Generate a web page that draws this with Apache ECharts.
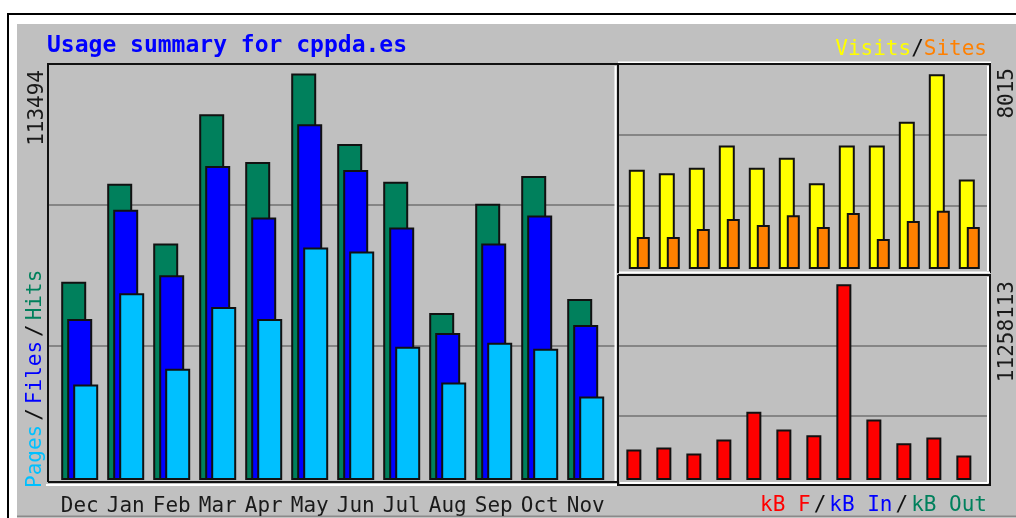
<!DOCTYPE html>
<html>
<head>
<meta charset="utf-8">
<title>Usage summary for cppda.es</title>
<script src="https://cdn.jsdelivr.net/npm/echarts@6/dist/echarts.min.js"></script>
<style>
  body { margin: 0; background: #fff; }
  #chart { width: 1016px; height: 518px; }
</style>
</head>
<body>
<div id="chart"></div>
<script>
// monthly figures
var months = ['Dec', 'Jan', 'Feb', 'Mar', 'Apr', 'May', 'Jun', 'Jul', 'Aug', 'Sep', 'Oct', 'Nov'];
var hits   = [55360, 82700, 66050, 102120, 88800, 113494, 93800, 83250, 46620, 77150, 84900, 50500];
var files  = [44950, 75480, 57170, 87690, 73260, 99350, 86580, 70490, 41070, 66050, 73820, 43290];
var pages  = [26640, 52170, 31080, 48290, 44960, 64930, 63830, 37190, 27200, 38300, 36630, 23310];
var visits = [4089, 3938, 4171, 5083, 4171, 4580, 3529, 5083, 5083, 6064, 8015, 3680];
var sites  = [1321, 1321, 1648, 2057, 1811, 2208, 1730, 2302, 1239, 1975, 2396, 1730];
var kbytes = [1757000, 1872000, 1528000, 2329000, 3932000, 2902000, 2576000, 11258113, 3474000, 2118000, 2444000, 1414000];

var C = {
    hits: '#00805c', files: '#0000ff', pages: '#00c0ff',
    visits: '#ffff00', sites: '#ff8000', kb: '#ff0000',
    bg: '#c0c0c0', grid: '#858585', ink: '#1a1a1a'
};
var MONO = 'DejaVu Sans Mono';
var F21 = '21px "' + MONO + '"';

var chart = echarts.init(document.getElementById('chart'));

// grid 0-2: panels that only carry the grey guide lines
// grid 3-5: the bars
function guideX(i) {
    return { gridIndex: i, type: 'value', min: 0, max: 1, show: false };
}
function guideY(i) {
    return {
        gridIndex: i, type: 'value', min: 0, max: 3, interval: 1,
        axisLine: { show: false }, axisTick: { show: false }, axisLabel: { show: false },
        splitLine: { show: true, showMinLine: false, showMaxLine: false, lineStyle: { color: C.grid, width: 2 } }
    };
}
function dataY(i) {
    return {
        gridIndex: i, type: 'value', min: 0, max: 'dataMax',
        axisLine: { show: false }, axisTick: { show: false }, axisLabel: { show: false },
        splitLine: { show: false }
    };
}
function monthX(i, labels) {
    return {
        gridIndex: i, type: 'category', data: months,
        axisLine: { show: false }, axisTick: { show: false },
        axisLabel: { show: labels, interval: 0, margin: 16, fontFamily: MONO, fontSize: 21, color: C.ink }
    };
}
function bar(name, data, color, axis, width, gap) {
    return {
        name: name, type: 'bar', data: data,
        xAxisIndex: axis, yAxisIndex: axis,
        barWidth: width, barGap: gap,
        itemStyle: { color: color, borderColor: '#111', borderWidth: 2 },
        animation: false
    };
}

function line(points, color, z) {
    return {
        type: 'polyline', z: z || 5,
        shape: { points: points },
        style: { stroke: color, lineWidth: 2, fill: null }
    };
}

function vtext(x, y, text, align, extra) {
    var t = {
        type: 'text', x: x, y: y, rotation: Math.PI / 2, z: 6,
        style: { text: text, align: align, verticalAlign: 'middle', font: F21, fill: C.ink }
    };
    if (extra) t.style.rich = extra;
    return t;
}

chart.setOption({
    animation: false,
    grid: [
        { left: 49, top: 64, width: 567, height: 422 },
        { left: 619, top: 64, width: 371, height: 212 },
        { left: 619, top: 275.5, width: 371, height: 211 },
        { left: 56.7, top: 73.5, width: 552, height: 406.5 },
        { left: 624.3, top: 74.3, width: 360, height: 194.7 },
        { left: 618.85, top: 284.3, width: 360, height: 195.7 }
    ],
    xAxis: [guideX(0), guideX(1), guideX(2), monthX(3, true), monthX(4, false), monthX(5, false)],
    yAxis: [guideY(0), guideY(1), guideY(2), dataY(3), dataY(4), dataY(5)],
    series: [
        bar('Hits', hits, C.hits, 3, 25, '-76%'),
        bar('Files', files, C.files, 3, 25, '-76%'),
        bar('Pages', pages, C.pages, 3, 25, '-76%'),
        bar('Visits', visits, C.visits, 4, 16, '-50%'),
        bar('Sites', sites, C.sites, 4, 13, '-50%'),
        bar('kB F', kbytes, C.kb, 5, 15, '30%')
    ],
    graphic: [
        // outer frame
        { type: 'rect', z: -10, shape: { x: 8, y: 14, width: 1030, height: 530 },
          style: { fill: '#fff', stroke: '#000', lineWidth: 2 } },
        { type: 'rect', z: -9, shape: { x: 17, y: 24, width: 1010, height: 492 },
          style: { fill: C.bg } },
        line([[17, 516.5], [1016, 516.5]], '#8a8a8a', -8),

        // main panel
        line([[48, 482], [48, 64], [617, 64]], '#111'),
        line([[48, 482], [617, 482]], '#111'),
        line([[615.5, 66], [615.5, 481]], '#fff'),
        line([[46, 485], [617, 485]], '#fff'),
        // visits / sites panel
        line([[618, 62.5], [991, 62.5]], '#fff'),
        line([[618, 273], [618, 64], [990, 64], [990, 273]], '#111'),
        line([[988, 66], [988, 271]], '#fff'),
        line([[619, 272.5], [990, 272.5]], '#fff'),
        // kB panel
        line([[618, 275], [990, 275], [990, 485], [618, 485], [618, 275]], '#111'),
        line([[988, 277], [988, 483]], '#fff'),
        line([[620, 483], [988, 483]], '#fff'),

        // title and legends
        { type: 'text', x: 47, y: 46, z: 6,
          style: { text: 'Usage summary for cppda.es', verticalAlign: 'middle',
                   font: 'bold 23px "' + MONO + '"', fill: '#0000ff' } },
        { type: 'text', x: 987, y: 50, z: 6,
          style: { text: '{v|Visits}{s|/}{o|Sites}', align: 'right', verticalAlign: 'middle', font: F21,
                   rich: {
                       v: { fill: C.visits, font: F21 },
                       s: { fill: '#111', font: F21 },
                       o: { fill: C.sites, font: F21 }
                   } } },
        { type: 'text', x: 987, y: 505.5, z: 6,
          style: { text: '{r|kB F}{s|/}{b|kB In}{s|/}{g|kB Out}', align: 'right', verticalAlign: 'middle', font: F21,
                   rich: {
                       r: { fill: C.kb, font: F21 },
                       s: { fill: '#111', font: F21, padding: [0, 3] },
                       b: { fill: C.files, font: F21 },
                       g: { fill: C.hits, font: F21 }
                   } } },
        vtext(36, 488, '{p|Pages}{s|/}{f|Files}{s|/}{h|Hits}', 'left', {
            p: { fill: C.pages, font: F21 },
            s: { fill: '#111', font: F21, padding: [0, 4] },
            f: { fill: C.files, font: F21 },
            h: { fill: C.hits, font: F21 }
        }),

        // maxima written beside the panels
        vtext(38, 70, String(Math.max.apply(null, hits)), 'right'),
        vtext(1008, 68, String(Math.max.apply(null, visits)), 'right'),
        vtext(1008, 281, String(Math.max.apply(null, kbytes)), 'right')
    ]
});
</script>
</body>
</html>
